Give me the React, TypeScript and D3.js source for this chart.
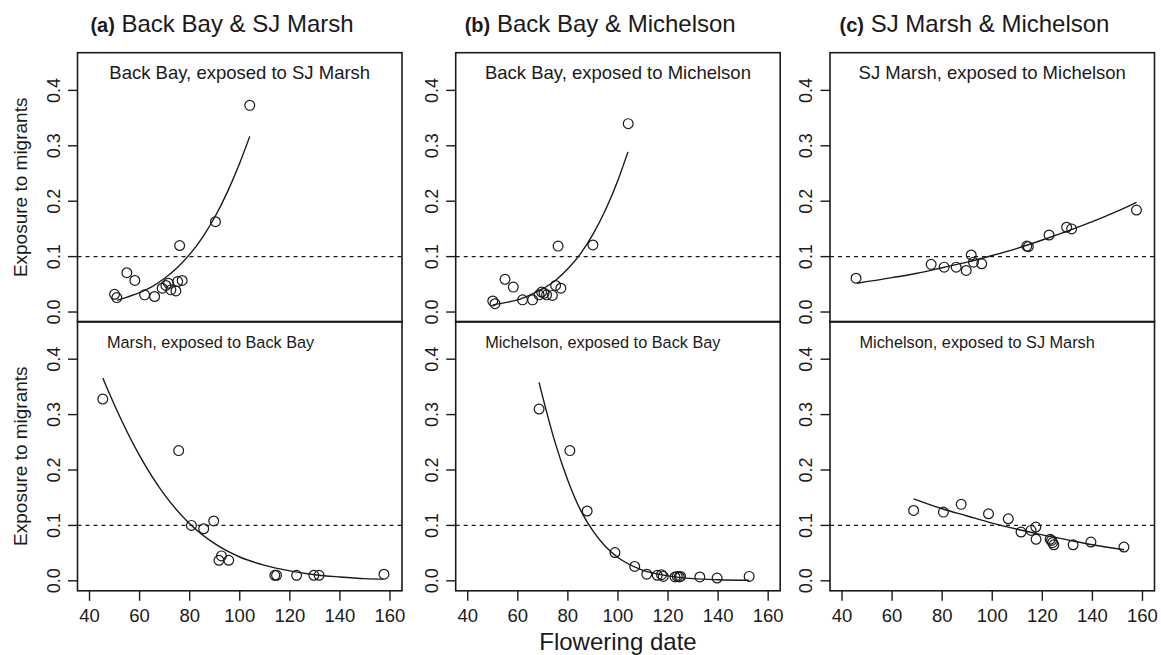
import React from 'react';
import * as d3 from 'd3';

const topA_x = [50.0, 50.9, 54.9, 58.1, 62.0, 66.0, 69.0, 70.5, 71.5, 72.5, 74.5, 75.2, 76.0, 77.0, 90.3, 104.0];
const topA_y = [0.032, 0.026, 0.071, 0.057, 0.031, 0.028, 0.043, 0.048, 0.052, 0.040, 0.038, 0.055, 0.120, 0.057, 0.163, 0.373];
const topB_x = [50.0, 50.9, 54.9, 58.2, 61.9, 65.9, 68.5, 69.5, 70.5, 71.5, 73.8, 75.1, 76.1, 77.2, 90.0, 104.1];
const topB_y = [0.020, 0.015, 0.059, 0.045, 0.022, 0.022, 0.031, 0.036, 0.034, 0.031, 0.030, 0.048, 0.119, 0.043, 0.121, 0.340];
const topC_x = [45.6, 75.6, 80.8, 85.6, 89.6, 91.6, 92.5, 95.8, 113.8, 114.4, 122.7, 129.7, 131.7, 157.6];
const topC_y = [0.061, 0.086, 0.081, 0.081, 0.075, 0.103, 0.090, 0.087, 0.119, 0.118, 0.139, 0.153, 0.150, 0.184];
const botA_x = [45.3, 75.6, 80.7, 85.6, 89.6, 91.7, 92.7, 95.6, 114.0, 114.7, 122.7, 129.6, 131.7, 157.6];
const botA_y = [0.328, 0.235, 0.100, 0.094, 0.108, 0.037, 0.045, 0.037, 0.010, 0.010, 0.010, 0.010, 0.010, 0.012];
const botB_x = [68.5, 80.8, 87.7, 98.8, 106.7, 111.5, 115.7, 117.4, 118.1, 122.8, 123.7, 124.5, 125.0, 132.7, 139.6, 152.4];
const botB_y = [0.310, 0.235, 0.126, 0.051, 0.026, 0.012, 0.010, 0.011, 0.008, 0.007, 0.008, 0.007, 0.008, 0.007, 0.005, 0.008];
const botC_x = [68.6, 80.5, 87.6, 98.5, 106.4, 111.5, 115.5, 117.4, 117.5, 123.1, 123.7, 124.1, 124.6, 132.3, 139.4, 152.6];
const botC_y = [0.127, 0.124, 0.138, 0.121, 0.112, 0.088, 0.091, 0.097, 0.075, 0.075, 0.073, 0.069, 0.065, 0.065, 0.070, 0.061];

const fitTopA_x = [51, 55, 60, 65, 70, 75, 80, 85, 90, 95, 100, 104];
const fitTopA_y = [0.021, 0.027, 0.035, 0.046, 0.061, 0.080, 0.104, 0.134, 0.171, 0.216, 0.269, 0.317];
const fitTopB_x = [50, 55, 60, 65, 70, 75, 80, 85, 90, 95, 100, 104];
const fitTopB_y = [0.013, 0.017, 0.022, 0.031, 0.042, 0.057, 0.078, 0.105, 0.140, 0.184, 0.238, 0.289];
const fitTopC_x = [46, 60, 70, 80, 90, 100, 110, 120, 130, 140, 150, 157.6];
const fitTopC_y = [0.052, 0.062, 0.070, 0.080, 0.090, 0.102, 0.115, 0.130, 0.146, 0.163, 0.182, 0.198];
const fitBotA_x = [45.3, 50, 60, 70, 80, 90, 100, 110, 120, 130, 140, 150, 157.3];
const fitBotA_y = [0.366, 0.317, 0.226, 0.155, 0.103, 0.067, 0.043, 0.028, 0.018, 0.011, 0.007, 0.004, 0.003];
const fitBotB_x = [68.5, 70, 75, 80, 85, 90, 95, 100, 110, 120, 130, 140, 152.4];
const fitBotB_y = [0.358, 0.331, 0.248, 0.181, 0.128, 0.090, 0.062, 0.042, 0.019, 0.009, 0.004, 0.002, 0.001];
const fitBotC_x = [68.6, 80, 90, 100, 110, 120, 130, 140, 152.6];
const fitBotC_y = [0.148, 0.130, 0.117, 0.104, 0.093, 0.083, 0.074, 0.065, 0.056];

const xTicks = [40, 60, 80, 100, 120, 140, 160];
const yTicks = [0, 0.1, 0.2, 0.3, 0.4];
const threshold = 0.1;

const columnTitles = [
  ['(a)', 'Back Bay & SJ Marsh'],
  ['(b)', 'Back Bay & Michelson'],
  ['(c)', 'SJ Marsh & Michelson'],
];
const topLabels = ['Back Bay, exposed to SJ Marsh', 'Back Bay, exposed to Michelson', 'SJ Marsh, exposed to Michelson'];
const bottomLabels = ['Marsh, exposed to Back Bay', 'Michelson, exposed to Back Bay', 'Michelson, exposed to SJ Marsh'];
const yTitle = 'Exposure to migrants';
const xTitle = 'Flowering date';

const FONT = '"Liberation Sans", Arial, Helvetica, sans-serif';
const INK = '#1a1a1a';

const W = 1161;
const H = 655;
const lefts = [77.5, 455.7, 830];
const PW = 324.5;
const rowTop = [52.7, 321.5];
const PH = 269.3;

const zip = (xs: number[], ys: number[]) => xs.map((x, i) => [x, ys[i]] as [number, number]);

const panels = [
  { col: 0, row: 0, pts: zip(topA_x, topA_y), fit: zip(fitTopA_x, fitTopA_y), label: topLabels[0] },
  { col: 1, row: 0, pts: zip(topB_x, topB_y), fit: zip(fitTopB_x, fitTopB_y), label: topLabels[1] },
  { col: 2, row: 0, pts: zip(topC_x, topC_y), fit: zip(fitTopC_x, fitTopC_y), label: topLabels[2] },
  { col: 0, row: 1, pts: zip(botA_x, botA_y), fit: zip(fitBotA_x, fitBotA_y), label: bottomLabels[0] },
  { col: 1, row: 1, pts: zip(botB_x, botB_y), fit: zip(fitBotB_x, fitBotB_y), label: bottomLabels[1] },
  { col: 2, row: 1, pts: zip(botC_x, botC_y), fit: zip(fitBotC_x, fitBotC_y), label: bottomLabels[2] },
];

function Panel({ col, row, pts, fit, label }: any) {
  const left = lefts[col];
  const top = rowTop[row];
  // R style: 4% padding around xlim c(40,160) and ylim c(0,0.45)
  const x = d3.scaleLinear().domain([35.2, 164.8]).range([left, left + PW]);
  const y = d3.scaleLinear().domain([-0.018, 0.468]).range([top + PH, top]);
  const line = d3
    .line<[number, number]>()
    .x((d) => x(d[0]))
    .y((d) => y(d[1]))
    .curve(d3.curveMonotoneX);

  return (
    <g>
      <line x1={left} x2={left + PW} y1={y(threshold)} y2={y(threshold)} stroke={INK} strokeWidth={1.4} strokeDasharray="4,4" />
      <path d={line(fit) || ''} fill="none" stroke={INK} strokeWidth={1.4} />
      {pts.map((d: [number, number], i: number) => (
        <circle key={i} cx={x(d[0])} cy={y(d[1])} r={4.9} fill="none" stroke={INK} strokeWidth={1.2} />
      ))}
      <rect x={left} y={top} width={PW} height={PH} fill="none" stroke={INK} strokeWidth={1.6} />

      {/* y axis */}
      {yTicks.map((t) => (
        <g key={t}>
          <line x1={left - 9.5} x2={left} y1={y(t)} y2={y(t)} stroke={INK} strokeWidth={1.4} />
          <text
            transform={`translate(${left - 18},${y(t)}) rotate(-90)`}
            textAnchor="middle"
            fontSize={18}
            fontFamily={FONT}
            fill={INK}
          >
            {d3.format('.1f')(t)}
          </text>
        </g>
      ))}

      {/* x axis only on the bottom row */}
      {row === 1 &&
        xTicks.map((t) => (
          <g key={t}>
            <line x1={x(t)} x2={x(t)} y1={top + PH} y2={top + PH + 10} stroke={INK} strokeWidth={1.4} />
            <text x={x(t)} y={621.5} textAnchor="middle" fontSize={18.5} fontFamily={FONT} fill={INK}>
              {t}
            </text>
          </g>
        ))}

      {row === 0 ? (
        <text x={left + PW / 2} y={78.5} textAnchor="middle" fontSize={18.5} fontFamily={FONT} fill={INK}>
          {label}
        </text>
      ) : (
        <text x={left + 29.5} y={348} fontSize={16.3} fontFamily={FONT} fill={INK}>
          {label}
        </text>
      )}

      {col === 0 && (
        <text
          transform={`translate(27,${top + PH / 2}) rotate(-90)`}
          textAnchor="middle"
          fontSize={19}
          fontFamily={FONT}
          fill={INK}
        >
          {yTitle}
        </text>
      )}
    </g>
  );
}

export default function App() {
  return (
    <svg width={W} height={H} style={{ position: 'absolute', left: 0, top: 0, background: '#fff' }}>
      {columnTitles.map(([tag, title], i) => (
        <text key={i} x={lefts[i] + 144.5} y={32} textAnchor="middle" fontFamily={FONT} fill={INK}>
          <tspan fontWeight="bold" fontSize={20}>
            {tag}
          </tspan>
          <tspan fontSize={24}>{' ' + title}</tspan>
        </text>
      ))}
      {panels.map((p, i) => (
        <Panel key={i} {...p} />
      ))}
      <text x={lefts[1] + PW / 2} y={650} textAnchor="middle" fontSize={24} fontFamily={FONT} fill={INK}>
        {xTitle}
      </text>
    </svg>
  );
}
